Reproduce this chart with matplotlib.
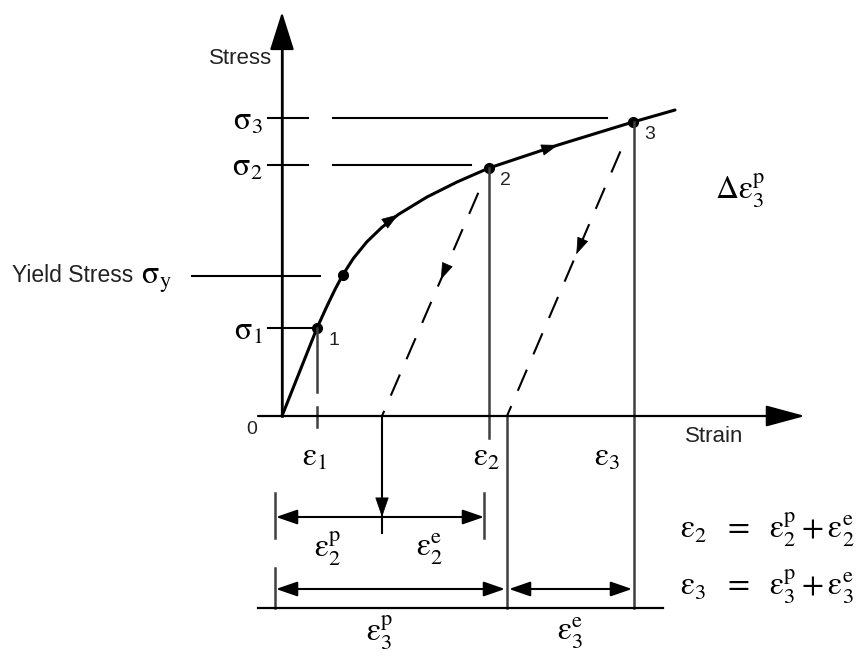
import numpy as np
import matplotlib.pyplot as plt

plt.rcParams['font.family'] = ['Liberation Sans', 'DejaVu Sans']
plt.rcParams['mathtext.fontset'] = 'stix'
plt.rcParams['mathtext.default'] = 'rm'

# stress-strain curve (diagram units)
curve_strain = [0.00, 0.35, 0.447, 0.53, 0.607, 0.713, 0.847, 0.997, 1.163, 1.45, 1.75, 2.07, 2.76, 3.51, 3.93]
curve_stress = [0.00, 0.88, 1.093, 1.265, 1.41, 1.575, 1.74, 1.885, 2.015, 2.19, 2.34, 2.48, 2.71, 2.94, 3.06]
arrow_idx = [8, 12]          # curve points carrying a direction arrow

# marked states: 1, yield, 2, 3
pt_strain = [0.35, 0.607, 2.07, 3.51]
pt_stress = [0.88, 1.41, 2.48, 2.94]
pt_names = ['1', '', '2', '3']

# unloading: from state 2 and 3 back to zero stress
unload_from = [2, 3]
plastic_strain = [1.00, 2.25]

# stress levels marked on the stress axis
sig_labels = [r'$\sigma_1$', r'$\sigma_2$', r'$\sigma_3$']
sig_levels = [0.88, 2.51, 2.98]
yield_level = 1.40

eps_labels = [r'$\varepsilon_1$', r'$\varepsilon_2$', r'$\varepsilon_3$']
eps_levels = [0.35, 2.07, 3.52]
eps_label_x = [0.33, 2.05, 3.25]

ink = 'black'
axis_col = '#404040'
txt_col = '#222222'

fig = plt.figure(figsize=(8.61, 6.56), dpi=100)
ax = fig.add_axes([0, 0, 1, 1])
ax.set_xlim(-2.82, 5.79)
ax.set_ylim(-2.40, 4.16)
ax.axis('off')


def head(x, y, dx, dy, hl=1.1, hw=0.38, ms=10):
    n = np.hypot(dx, dy)
    ax.annotate('', xy=(x, y), xytext=(x - dx / n * 0.02, y - dy / n * 0.02),
                arrowprops=dict(arrowstyle=f'-|>,head_length={hl},head_width={hw}',
                                color=ink, lw=0.5, shrinkA=0, shrinkB=0,
                                mutation_scale=ms))


def dim(x0, x1, y):
    ax.annotate('', xy=(x1, y), xytext=(x0, y),
                arrowprops=dict(arrowstyle='<|-|>,head_length=1.3,head_width=0.45',
                                color=ink, lw=1.5, shrinkA=0, shrinkB=0,
                                mutation_scale=10))


def greek(x, y, s, **kw):
    ax.text(x, y, s, fontsize=23, va='center', color=ink, **kw)


#axes
ax.annotate('', xy=(5.23, 0), xytext=(-0.24, 0),
            arrowprops=dict(arrowstyle='-|>,head_length=1.22,head_width=0.33',
                            color=ink, lw=1.6, shrinkA=0, shrinkB=0, mutation_scale=20))
ax.annotate('', xy=(0, 4.04), xytext=(0, 0),
            arrowprops=dict(arrowstyle='-|>,head_length=1.2,head_width=0.38',
                            color=ink, lw=1.6, shrinkA=0, shrinkB=0, mutation_scale=20))
ax.plot([0, 0], [0, 3.7], color=axis_col, lw=2.0)
ax.text(-0.10, 3.57, 'Stress', fontsize=16, ha='right', va='center', color=txt_col)
ax.text(4.61, -0.21, 'Strain', fontsize=16, ha='right', va='center', color=txt_col)
ax.text(-0.30, -0.14, '0', fontsize=14, ha='center', va='center', color=txt_col)

#stress curve
ax.plot(curve_strain, curve_stress, color=ink, lw=2.2, solid_capstyle='round',
        solid_joinstyle='round')
for i in arrow_idx:
    head(curve_strain[i], curve_stress[i],
         curve_strain[i + 1] - curve_strain[i - 1], curve_stress[i + 1] - curve_stress[i - 1])
ax.plot(pt_strain, pt_stress, 'o', color=ink, ms=7)
for x, y, s in zip(pt_strain, pt_stress, pt_names):
    ax.text(x + 0.11, y - 0.04, s, fontsize=14, ha='left', va='top', color=txt_col)

#stress levels
ax.plot([-0.14, 0.35], [sig_levels[0]] * 2, color=ink, lw=1.5)
for lev, x_end in zip(sig_levels[1:], [1.89, 3.25]):
    ax.plot([-0.14, 0.26], [lev] * 2, color=ink, lw=1.5)
    ax.plot([0.51, x_end], [lev] * 2, color=ink, lw=1.5)
ax.plot([-0.90, 0.38], [yield_level] * 2, color=ink, lw=1.5)
for s, lev in zip(sig_labels, sig_levels):
    greek(-0.19, lev - 0.03, s, ha='right')
ax.text(-2.70, yield_level, 'Yield Stress', fontsize=16.5, ha='left', va='center', color=txt_col)
greek(-1.41, yield_level - 0.04, r'$\sigma_y$', ha='left')

#strain levels
ax.plot([eps_levels[0]] * 2, [pt_stress[0], 0.24], color=axis_col, lw=1.8)
ax.plot([eps_levels[0]] * 2, [0.09, -0.11], color=axis_col, lw=1.8)
ax.plot([eps_levels[1]] * 2, [pt_stress[2], -0.22], color=axis_col, lw=1.8)
ax.plot([eps_levels[2]] * 2, [pt_stress[3], -1.92], color=axis_col, lw=1.8)
for s, x in zip(eps_labels, eps_label_x):
    greek(x, -0.41, s, ha='center')

#unloading lines
for k, ep in zip(unload_from, plastic_strain):
    x0, y0 = pt_strain[k], pt_stress[k]
    xs = x0 + 0.1 * (ep - x0)
    ys = 0.9 * y0
    ax.plot([xs, ep], [ys, 0], color=ink, lw=1.5, dashes=(11, 8))
    f = 0.45
    head(x0 + f * (ep - x0), y0 * (1 - f), ep - x0, -y0)

#plastic strain markers
ax.plot([plastic_strain[0]] * 2, [0, -1.17], color=ink, lw=1.5)
head(plastic_strain[0], -1.01, 0, -1, hl=1.3, hw=0.45)
ax.plot([plastic_strain[1]] * 2, [0, -1.92], color=axis_col, lw=1.8)

#dimension lines
ax.plot([-0.07, -0.07], [-0.77, -1.22], color=axis_col, lw=1.8)
ax.plot([2.02, 2.02], [-0.77, -1.22], color=axis_col, lw=1.8)
ax.plot([-0.07, -0.07], [-1.52, -1.92], color=axis_col, lw=1.8)
dim(-0.06, 2.02, -1.01)
dim(-0.06, 2.23, -1.73)
dim(2.27, 3.50, -1.73)
ax.plot([-0.24, 3.81], [-1.92, -1.92], color=ink, lw=1.6)

greek(0.46, -1.33, r'$\varepsilon_2^p$', ha='center')
greek(1.48, -1.33, r'$\varepsilon_2^e$', ha='center')
greek(0.98, -2.17, r'$\varepsilon_3^p$', ha='center')
greek(2.88, -2.17, r'$\varepsilon_3^e$', ha='center')

greek(4.33, 2.25, r'$\Delta\varepsilon_3^p$', ha='left')
greek(3.98, -1.14, r'$\varepsilon_2\ \ =\ \ \varepsilon_2^p + \varepsilon_2^e$', ha='left')
greek(3.98, -1.71, r'$\varepsilon_3\ \ =\ \ \varepsilon_3^p + \varepsilon_3^e$', ha='left')

plt.savefig('out.png', dpi=100)
